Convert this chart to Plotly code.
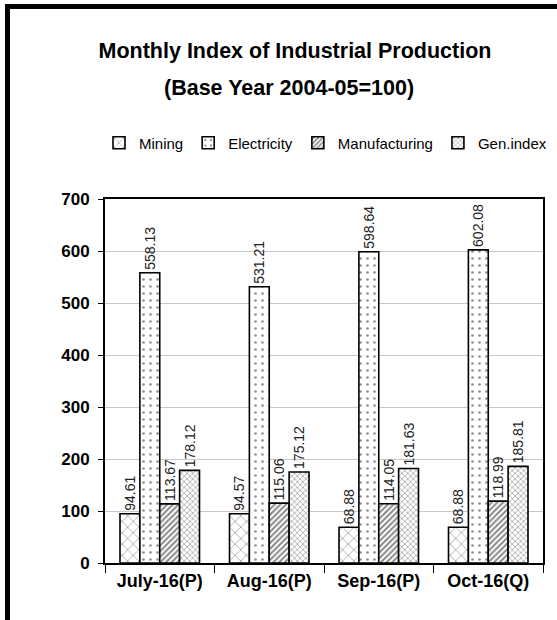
import plotly.graph_objects as go

categories = ["July-16(P)", "Aug-16(P)", "Sep-16(P)", "Oct-16(Q)"]
mining = [94.61, 94.57, 68.88, 68.88]
electricity = [558.13, 531.21, 598.64, 602.08]
manufacturing = [113.67, 115.06, 114.05, 118.99]
gen_index = [178.12, 175.12, 181.63, 185.81]
series_names = ["Mining", "Electricity", "Manufacturing", "Gen.index"]
y_ticks = [0, 100, 200, 300, 400, 500, 600, 700]
title_lines = ["Monthly Index of Industrial Production", "(Base Year 2004-05=100)"]

W, H = 557, 620
ML, MR, MT, MB = 105, 14, 199, 57
PW, PH = W - ML - MR, H - MT - MB

FONT = "Liberation Sans, Arial, sans-serif"

patterns = [
    dict(shape="x", size=8, solidity=0.16, fgcolor="#222", bgcolor="white"),
    dict(shape=".", size=7, solidity=0.12, fgcolor="#222", bgcolor="white"),
    dict(shape="/", size=4, solidity=0.5, fgcolor="#111", bgcolor="white"),
    dict(shape="x", size=4, solidity=0.3, fgcolor="#222", bgcolor="white"),
]

fig = go.Figure()
for name, vals, pat in zip(series_names, [mining, electricity, manufacturing, gen_index], patterns):
    fig.add_trace(go.Bar(
        name=name, x=categories, y=vals,
        marker=dict(color="white", pattern=pat, line=dict(color="black", width=1.6)),
        text=[f"{v:.2f}" for v in vals], textposition="outside", textangle=-90,
        constraintext="none",
        textfont=dict(family=FONT, size=14, color="#222"),
        cliponaxis=False,
    ))

def px_x(p):
    return (p - ML) / PW

def px_y(p):
    return (H - MB - p) / PH

fig.update_layout(
    width=W, height=H,
    margin=dict(l=ML, r=MR, t=MT, b=MB, autoexpand=False),
    paper_bgcolor="white", plot_bgcolor="white",
    barmode="group", bargap=0.274, bargroupgap=0,
    title=dict(
        text=f"<b>{title_lines[0]}</b>",
        x=295 / W, xanchor="center", y=1 - 50 / H, yanchor="middle",
        font=dict(family=FONT, size=21.5, color="black"),
    ),
    annotations=[
        dict(text=f"<b>{title_lines[1]}</b>", xref="paper", yref="paper",
             x=px_x(289), y=px_y(88), xanchor="center", yanchor="middle",
             showarrow=False, font=dict(family=FONT, size=21.5, color="black")),
    ],
    legend=dict(
        orientation="h", x=px_x(99), xanchor="left", y=px_y(143), yanchor="middle",
        font=dict(family=FONT, size=15, color="black"),
        itemwidth=30, traceorder="normal", bgcolor="rgba(0,0,0,0)",
    ),
    showlegend=True,
    xaxis=dict(
        tickfont=dict(family=FONT, size=18, color="black"),
        tickprefix="<b>", ticksuffix="</b>", tickangle=0, automargin=False,
        showline=True, linecolor="black", linewidth=2, mirror=True,
        ticks="outside", tickson="boundaries", ticklen=8, tickcolor="black", tickwidth=1,
        showgrid=False,
    ),
    yaxis=dict(
        range=[0, 700], tickvals=y_ticks, automargin=False,
        ticktext=[f"<b>{v}</b>" for v in y_ticks],
        tickfont=dict(family=FONT, size=17, color="black"),
        ticklabelstandoff=5,
        showline=True, linecolor="black", linewidth=2, mirror=True,
        ticks="outside", ticklen=5, tickcolor="black", tickwidth=1,
        showgrid=True, gridcolor="#c8c8c8", gridwidth=1, zeroline=False,
    ),
    shapes=[
        dict(type="line", xref="paper", yref="paper", x0=px_x(7.5), x1=px_x(7.5),
             y0=px_y(4), y1=px_y(H + 5), line=dict(color="black", width=5)),
        dict(type="line", xref="paper", yref="paper", x0=px_x(5), x1=px_x(W + 5),
             y0=px_y(6.5), y1=px_y(6.5), line=dict(color="black", width=5)),
    ],
)

fig.write_html("out.html", config={"displayModeBar": False},
               post_script="document.body.style.margin='0';")
